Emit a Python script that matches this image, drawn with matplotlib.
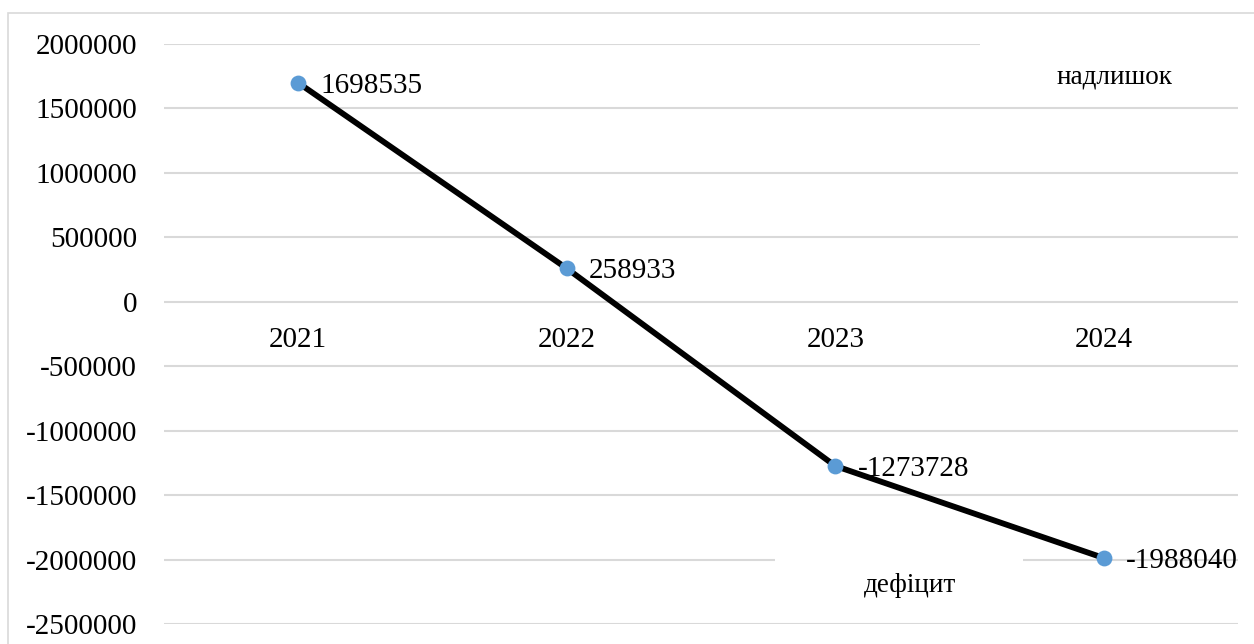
import matplotlib
matplotlib.use("Agg")
import matplotlib.pyplot as plt
from matplotlib.patches import Rectangle

plt.rcParams['font.family'] = ['Liberation Serif', 'DejaVu Serif']

years = ['2021', '2022', '2023', '2024']
balance = [1698535, 258933, -1273728, -1988040]
y_ticks = [2000000, 1500000, 1000000, 500000, 0, -500000, -1000000,
           -1500000, -2000000, -2500000]
label_surplus = 'надлишок'
label_deficit = 'дефіцит'

grid_color = '#D9D9D9'
marker_color = '#5B9BD5'

fig = plt.figure(figsize=(12.54, 6.44), dpi=100)
ax = fig.add_axes([164 / 1254, 1 - 624 / 644, (1238 - 164) / 1254, (624 - 44) / 644])

# outer chart frame
fig.patches.append(Rectangle((8 / 1254, -0.05), 1.1, 1 - 13 / 644 + 0.05,
                             transform=fig.transFigure, fill=False,
                             edgecolor=grid_color, linewidth=1.2, zorder=0))

x = list(range(len(years)))
ax.set_xlim(-0.5, len(years) - 0.5)
ax.set_ylim(-2500000, 2000000)
ax.set_yticks(y_ticks)
ax.set_yticklabels([str(v) for v in y_ticks], fontsize=21)
ax.tick_params(axis='y', length=0, pad=19.5)
ax.set_xticks([])
for s in ax.spines.values():
    s.set_visible(False)
ax.yaxis.grid(True, color=grid_color, linewidth=1.5, zorder=0)
ax.set_axisbelow(True)

# category labels sit just under the zero line
for xi, yr in zip(x, years):
    ax.annotate(yr, (xi, 0), xytext=(0, -18), textcoords='offset points',
                ha='center', va='top', fontsize=21)

# white boxes with the surplus / deficit captions
ax.add_patch(Rectangle((2.54, 1600000), 1.2, 600000, facecolor='white',
                       edgecolor='none', zorder=1, clip_on=False))
ax.text(3.04, 1747000, label_surplus, ha='center', va='center', fontsize=19.5, zorder=2)
ax.add_patch(Rectangle((1.776, -2400000), 0.923, 500000, facecolor='white',
                       edgecolor='none', zorder=1))
ax.text(2.28, -2205000, label_deficit, ha='center', va='center', fontsize=19.5, zorder=2)

ax.plot(x, balance, color='black', linewidth=4.2, zorder=3, solid_capstyle='round')
ax.scatter(x, balance, s=130, color=marker_color, zorder=4, linewidths=0)

for xi, v in zip(x, balance):
    ax.annotate(str(v), (xi, v), xytext=(16, -2), textcoords='offset points',
                ha='left', va='center', fontsize=21, zorder=5)

fig.savefig('out.png', dpi=100)
